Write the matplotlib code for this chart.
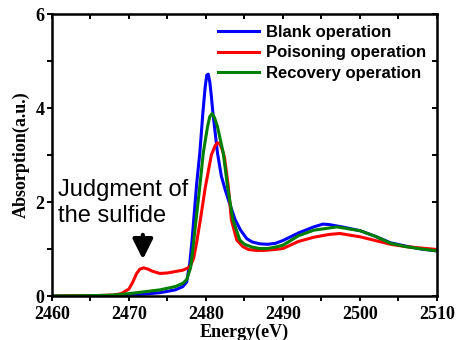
import matplotlib
matplotlib.use("Agg")
import matplotlib.pyplot as plt
from matplotlib.ticker import MultipleLocator

# values
e_blank = [2460, 2466, 2468, 2470, 2472, 2474, 2476, 2477, 2477.5, 2477.9, 2478.2,
           2478.8, 2479.2, 2479.6, 2479.9, 2480.1, 2480.3, 2480.5, 2480.7, 2480.9,
           2481.5, 2482.0, 2482.5, 2483.0, 2483.8, 2484.5, 2485.3, 2486, 2487, 2488,
           2489, 2490, 2492, 2494, 2495.2, 2496, 2498, 2500, 2502, 2504, 2506, 2508,
           2510]
a_blank = [0.0, 0.0, 0.01, 0.02, 0.04, 0.07, 0.13, 0.2, 0.3, 0.7, 1.2,
           2.4, 3.04, 3.9, 4.45, 4.7, 4.72, 4.55, 4.25, 3.9,
           3.04, 2.55, 2.26, 2.0, 1.62, 1.4, 1.22, 1.15, 1.11, 1.1,
           1.12, 1.18, 1.34, 1.47, 1.53, 1.52, 1.46, 1.39, 1.27, 1.13, 1.06, 1.0,
           0.96]

e_poison = [2460, 2466, 2468, 2469, 2470, 2470.5, 2471, 2471.4, 2471.9, 2472.5, 2473,
            2474, 2475, 2476, 2477, 2477.7, 2478.0, 2478.4, 2478.8, 2479.3, 2479.9,
            2480.7, 2481.2, 2481.5, 2481.8, 2482.1, 2482.4, 2482.9, 2483.3, 2484.0,
            2484.8, 2485.5, 2486.5, 2487.5, 2489, 2490, 2492, 2494, 2496, 2497.4,
            2500, 2502, 2504, 2506, 2508, 2510]
a_poison = [0.0, 0.01, 0.02, 0.05, 0.15, 0.3, 0.48, 0.57, 0.6, 0.57, 0.53,
            0.48, 0.49, 0.52, 0.55, 0.6, 0.65, 0.8, 1.15, 1.65, 2.3,
            3.0, 3.2, 3.26, 3.24, 3.12, 2.95, 2.33, 1.62, 1.19,
            1.05, 0.99, 0.97, 0.97, 0.99, 1.01, 1.16, 1.25, 1.31, 1.33,
            1.26, 1.18, 1.1, 1.05, 1.02, 0.99]

e_recovery = [2460, 2466, 2468, 2470, 2472, 2474, 2476, 2477, 2477.5, 2478.0, 2478.3,
              2478.7, 2479.2, 2479.65, 2480.2, 2480.5, 2480.8, 2481.1, 2481.5,
              2482.25, 2482.8, 2483.5, 2484.4, 2485, 2486, 2487, 2488, 2489, 2490,
              2492, 2494, 2497, 2500, 2502, 2504, 2506, 2508, 2510]
a_recovery = [0.0, 0.01, 0.02, 0.05, 0.09, 0.13, 0.2, 0.27, 0.35, 0.6, 1.0,
              1.6, 2.33, 3.04, 3.6, 3.82, 3.88, 3.8, 3.6,
              3.04, 2.33, 1.62, 1.19, 1.1, 1.04, 1.01, 1.01, 1.04, 1.08,
              1.28, 1.4, 1.47, 1.39, 1.27, 1.12, 1.05, 1.0, 0.96]

labels = ["Blank operation", "Poisoning operation", "Recovery operation"]
colors = ["#0000ff", "#ff0000", "#008000"]

serif = "Liberation Serif"

fig = plt.figure(figsize=(4.58, 3.40), dpi=100)
ax = fig.add_axes([0.1135, 0.1294, 0.8405, 0.8294])

ax.plot(e_blank, a_blank, color=colors[0], lw=2.2, label=labels[0])
ax.plot(e_poison, a_poison, color=colors[1], lw=2.2, label=labels[1])
ax.plot(e_recovery, a_recovery, color=colors[2], lw=2.2, label=labels[2])

ax.set_xlim(2460, 2510)
ax.set_ylim(0, 6)
ax.xaxis.set_major_locator(MultipleLocator(10))
ax.xaxis.set_minor_locator(MultipleLocator(5))
ax.yaxis.set_major_locator(MultipleLocator(2))
ax.yaxis.set_minor_locator(MultipleLocator(1))

for sp in ax.spines.values():
    sp.set_linewidth(1.8)
ax.tick_params(which="both", direction="out", length=3.5, width=1.4,
               top=False, right=False)
ax.tick_params(axis="both", labelsize=13)
ax.tick_params(axis="x", pad=3.5)
ax.tick_params(axis="y", pad=2)
for t in ax.get_xticklabels() + ax.get_yticklabels():
    t.set_fontfamily(serif)
    t.set_fontweight("bold")

# top/right ticks, no labels
sx = ax.secondary_xaxis("top")
sx.xaxis.set_major_locator(MultipleLocator(10))
sx.xaxis.set_minor_locator(MultipleLocator(5))
sx.tick_params(which="both", direction="in", length=3.5, width=1.4, labeltop=False)
sy = ax.secondary_yaxis("right")
sy.yaxis.set_major_locator(MultipleLocator(2))
sy.yaxis.set_minor_locator(MultipleLocator(1))
sy.tick_params(which="both", direction="in", length=3.5, width=1.4, labelright=False)

ax.set_xlabel("Energy(eV)", family=serif, weight="bold", fontsize=13, labelpad=1)
ax.set_ylabel("Absorption(a.u.)", family=serif, weight="bold", fontsize=13, labelpad=4)

ax.legend(loc="upper right", frameon=False, handlelength=2.5, handletextpad=0.4,
          labelspacing=0.33, borderaxespad=0.25,
          prop={"family": "Liberation Sans", "weight": "bold", "size": 12})

ax.text(2460.8, 1.98, "Judgment of\nthe sulfide", family="Liberation Sans",
        fontsize=17, va="center", ha="left", linespacing=1.22)
ax.annotate("", xy=(2471.8, 0.72), xytext=(2471.8, 1.36),
            arrowprops=dict(arrowstyle="-|>,head_width=0.4,head_length=0.8",
                            color="black", lw=3, mutation_scale=15))

plt.savefig("out.png", dpi=100)
